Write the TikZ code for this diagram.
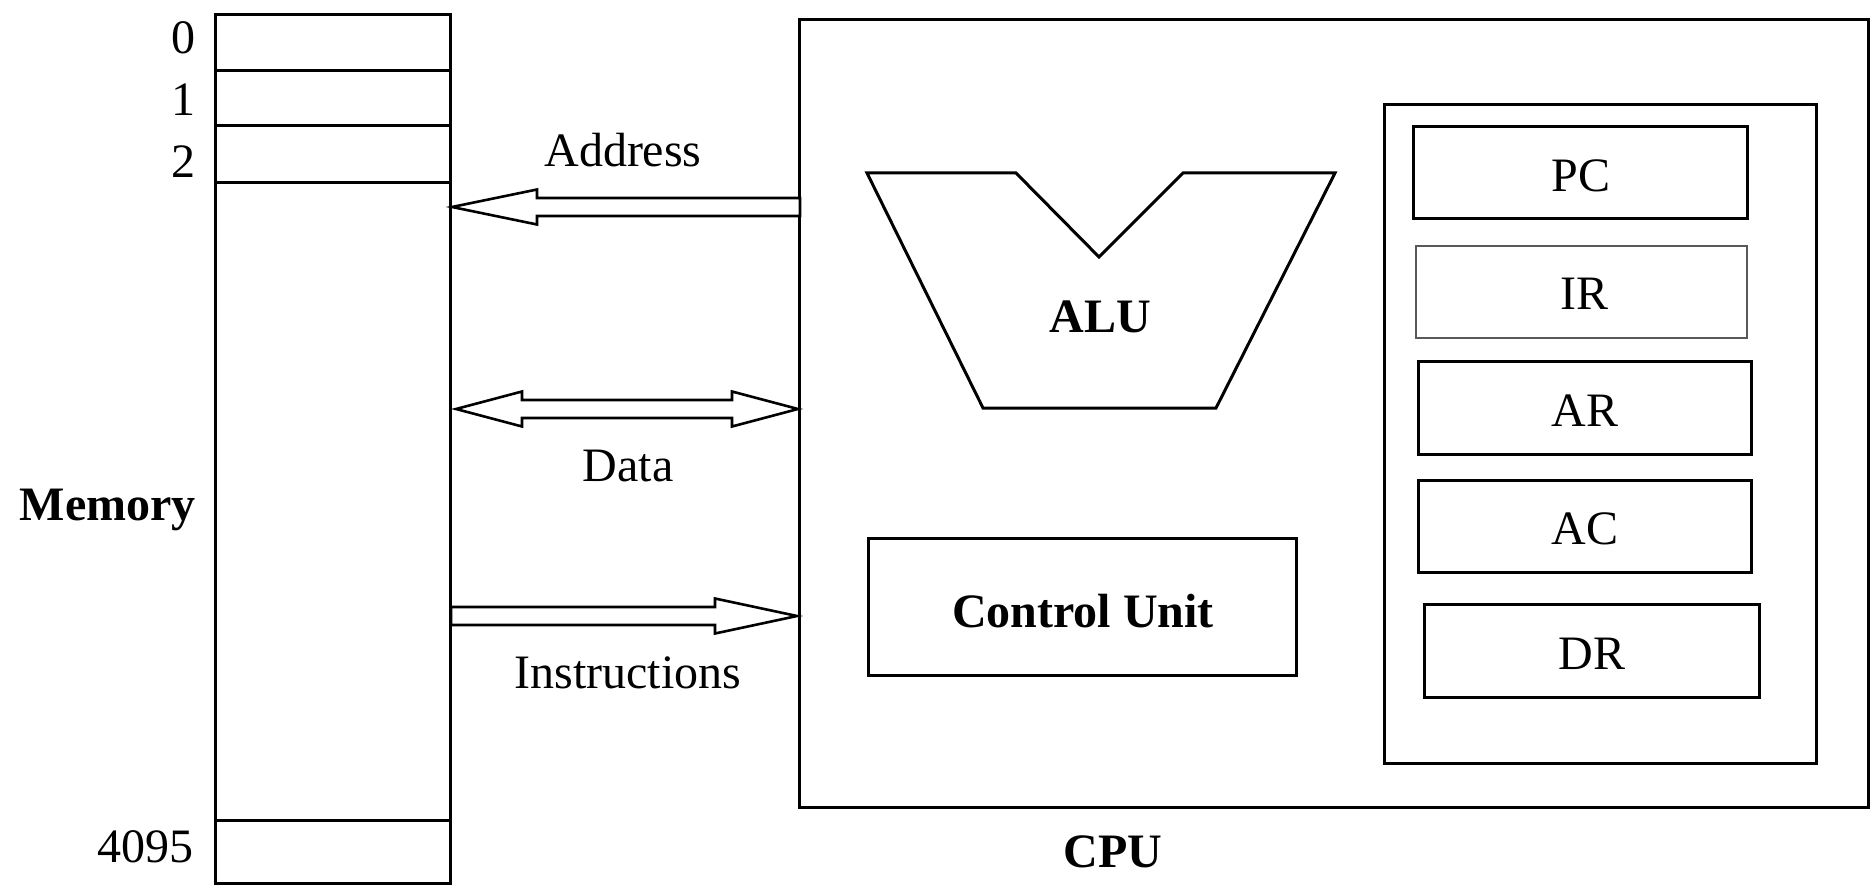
\documentclass[tikz,border=0pt]{standalone}
\usepackage{fontspec}
\setmainfont{Liberation Serif}
\usetikzlibrary{fit,calc}
\begin{document}
\begin{tikzpicture}[x=0.5pt,y=-0.5pt,
  every node/.style={font=\fontsize{24}{28}\selectfont, inner sep=0pt},
  box/.style={draw, line width=1.5pt, inner sep=0pt},
  regbox/.style={draw, line width=1.5pt, inner sep=0pt},
  greybox/.style={draw=black!65, line width=1.3pt, inner sep=0pt},
  bus/.style={draw, line width=1.3pt, line join=miter, fill=white},
  lbl/.style={anchor=base},
  bold/.style={font=\fontsize{24}{28}\selectfont\bfseries}]
\useasboundingbox (0,0) rectangle (1872,887);

% Memory
\node[box, fit={(215,15) (450,883)}] (mem) {};
\draw[line width=1.5pt] (215,71) -- (450,71) (215,126) -- (450,126) (215,183) -- (450,183) (215,820) -- (450,820);
\node[anchor=east] (m0) at (196,38) {0};
\node[anchor=east] (m1) at (196,100) {1};
\node[anchor=east] (m2) at (196,162) {2};
\node[anchor=east] (m4095) at (194,847) {4095};
\node[bold, anchor=base east] (memlbl) at (196,520) {Memory};

% CPU
\node[box, fit={(799,20) (1868,807)}] (cpu) {};
\node[bold, anchor=base] (cpulbl) at (1113,867) {CPU};

% ALU
\draw[line width=1.5pt, line join=miter] (867,173) -- (1016,173) -- (1099,257) -- (1183,173) -- (1335,173) -- (1216,408) -- (983,408) -- cycle;
\node[bold, anchor=base] (alu) at (1100,333) {ALU};

% Control unit
\node[box, fit={(868,538) (1296,675)}] (cu) {};
\node[bold, anchor=base] (cutext) at (1083,627) {Control Unit};

% Registers
\node[box, fit={(1384,105) (1816,763)}] (regs) {};
\node[regbox, fit={(1413,127) (1747,219)}] (pc) {};
\node[greybox, fit={(1416,246) (1747,338)}] (ir) {};
\node[regbox, fit={(1418,362) (1751,454)}] (ar) {};
\node[regbox, fit={(1418,480) (1751,572)}] (ac) {};
\node[regbox, fit={(1424,604) (1759,697)}] (dr) {};
\node[anchor=base] (pct) at (1581,192) {PC};
\node[anchor=base] (irt) at (1584,310) {IR};
\node[anchor=base] (art) at (1585,426) {AR};
\node[anchor=base] (act) at (1585,544) {AC};
\node[anchor=base] (drt) at (1592,669) {DR};

% Buses
\coordinate (addrTip) at (452,207);
\coordinate (addrTail) at (800,207);
\path[bus] (addrTip) -- ++(85,-17.5) -- ++(0,8.5) -- ($(addrTail)+(0,-9)$) -- ($(addrTail)+(0,9)$) -- ++(-263,0) -- ++(0,8.5) -- cycle;
\node[lbl] (addrlbl) at (623,167) {Address};

\coordinate (dataL) at (456,409);
\coordinate (dataR) at (798,409);
\path[bus] (dataL) -- ++(66,-17.5) -- ++(0,8.5) -- ++(210,0) -- ++(0,-8.5) -- (dataR) -- ++(-66,17.5) -- ++(0,-8.5) -- ++(-210,0) -- ++(0,8.5) -- cycle;
\node[lbl] (datalbl) at (628,481) {Data};

\coordinate (insTail) at (451,616);
\coordinate (insTip) at (797,616);
\path[bus] (insTip) -- ++(-82,-17.5) -- ++(0,8.5) -- ($(insTail)+(0,-9)$) -- ($(insTail)+(0,9)$) -- ++(264,0) -- ++(0,8.5) -- cycle;
\node[lbl] (inslbl) at (628,688) {Instructions};
\end{tikzpicture}
\end{document}
